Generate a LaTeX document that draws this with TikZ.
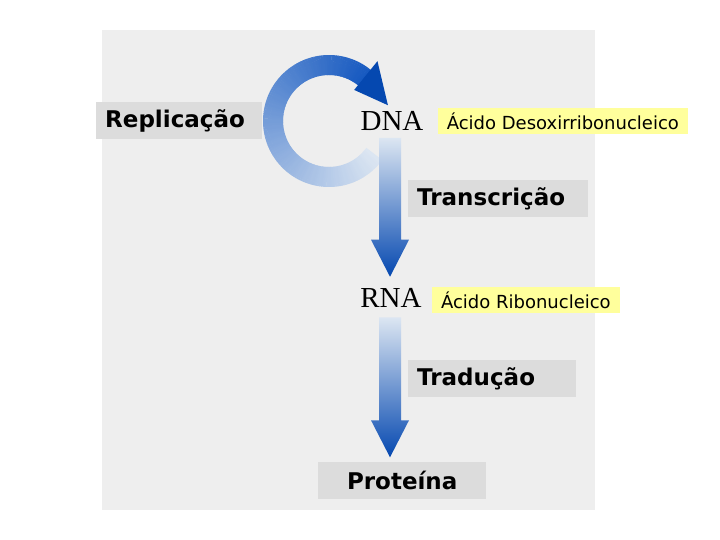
\documentclass[tikz,border=0pt]{standalone}
\usepackage{fontspec}
\usepackage{tikz}
\usetikzlibrary{calc,positioning}
\newfontfamily\rotulo{DejaVu Sans}
\newfontfamily\serifa{Liberation Serif}
\definecolor{painel}{HTML}{EEEEEE}
\definecolor{cinzax}{HTML}{DCDCDC}
\definecolor{amarelox}{HTML}{FFFF9C}
\definecolor{azulclaro}{HTML}{DCE6F2}
\definecolor{azulmedio}{HTML}{5088D4}
\definecolor{azulescuro}{HTML}{0548B0}
\definecolor{azulanel}{HTML}{1659C0}
\tikzset{
  etapa/.style={fill=cinzax,minimum height=37pt,inner xsep=9pt,inner ysep=0pt,font=\rotulo\bfseries\fontsize{23}{26}\selectfont,anchor=west},
  nota/.style={fill=amarelox,minimum height=26pt,inner xsep=9pt,inner ysep=0pt,font=\rotulo\fontsize{18}{20}\selectfont,anchor=west},
  sigla/.style={inner sep=0pt,font=\serifa\fontsize{29}{30}\selectfont}
}
\newcommand{\fluxo}[2]{%
  \shade[top color=azulclaro,middle color=azulmedio,bottom color=azulescuro]
    let \p1=#1, \p2=#2 in
    (\x1-11pt,\y1) -- (\x1+11pt,\y1) -- (\x1+11pt,\y2+37pt) -- (\x1+19pt,\y2+37pt)
    -- (\x1,\y2) -- (\x1-19pt,\y2+37pt) -- (\x1-11pt,\y2+37pt) -- cycle;}
\begin{document}
\begin{tikzpicture}[x=1pt,y=-1pt]
\useasboundingbox (0,0) rectangle (720,540);
\fill[painel] (102,30) rectangle (595,510);
\node[sigla] (dna) at (392,121) {DNA};
\node[sigla] (rna) at (391,297.5) {RNA};
\node[etapa,text width=148pt,align=left] (replic) at (96,120.5) {Replicação};
\node[etapa,text width=162pt,align=left] (transc) at (408,198.5) {Transcrição};
\node[etapa,text width=150pt,align=left] (trad) at (408,378.5) {Tradução};
\node[etapa,text width=150pt,align=center] (prot) at (318,480) {Proteína};
\node[nota,right=14pt of dna] (nota1) {Ácido Desoxirribonucleico};
\node[nota,right=10pt of rna,yshift=-2.5pt] (nota2) {Ácido Ribonucleico};
\coordinate (ciclo) at ($(dna)+(-63,0)$);
\foreach \k [evaluate=\k as \a using 36+2*\k, evaluate=\k as \p using int(100*\k/136)] in {0,...,136}
  \draw[line width=20pt,azulanel!\p!azulclaro] ($(ciclo)+(\a:56)$) arc[start angle=\a,end angle=\a+2.6,radius=56];
\fill[azulescuro] ($(ciclo)+(-51:40)$) -- ($(ciclo)+(-51:77)$) -- ($(ciclo)+(-15:61)$) -- cycle;
\fluxo{($(dna.south)+(-2,7)$)}{($(rna.north)+(0,-11)$)}
\fluxo{($(rna.south)+(-1,10)$)}{($(prot.north)+(0,-4)$)}
\end{tikzpicture}
\end{document}
